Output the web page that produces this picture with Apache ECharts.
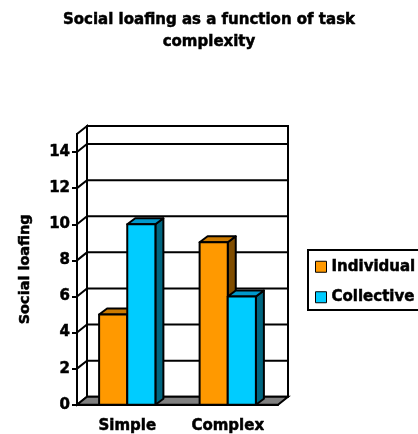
<!DOCTYPE html>
<html>
<head>
<meta charset="utf-8">
<title>Social loafing</title>
<script src="https://cdn.jsdelivr.net/npm/echarts@6/dist/echarts.min.js"></script>
<style>
  html, body { margin: 0; padding: 0; background: #fff; }
  #chart { width: 418px; height: 434px; }
</style>
</head>
<body>
<div id="chart"></div>
<script>
// Chart data
const categories = ['Simple', 'Complex'];
const individual = [5, 9];
const collective = [10, 6];
const yTicks = [0, 2, 4, 6, 8, 10, 12, 14];
const yMax = 15;

// Depth offsets for the pseudo-3D look (pixels)
const WALL_DX = 10, WALL_DY = -8;
const BAR_DX = 8, BAR_DY = -6;
const FONT = '"DejaVu Sans", Verdana, sans-serif';

// Heavy bold text style shared by all labels
function boldText(size) {
  return {
    fontFamily: FONT, fontSize: size, fontWeight: 'bold', color: '#000',
    textBorderColor: '#000', textBorderWidth: 0.5
  };
}

const chart = echarts.init(document.getElementById('chart'), null, { renderer: 'canvas' });

// Back wall, side wall, floor and gridlines
function renderFrame(params, api) {
  const cs = params.coordSys;
  const x0 = cs.x, x1 = cs.x + cs.width;
  const y0 = api.coord([0, 0])[1];
  const yTop = api.coord([0, yMax])[1];
  const line = { stroke: '#000', lineWidth: 2 };
  const children = [];
  children.push({
    type: 'polygon',
    shape: { points: [[x0 + WALL_DX, yTop + WALL_DY], [x1 + WALL_DX, yTop + WALL_DY], [x1 + WALL_DX, y0 + WALL_DY], [x0 + WALL_DX, y0 + WALL_DY]] },
    style: Object.assign({ fill: '#fff' }, line)
  });
  children.push({
    type: 'polygon',
    shape: { points: [[x0, y0], [x0, yTop], [x0 + WALL_DX, yTop + WALL_DY], [x0 + WALL_DX, y0 + WALL_DY]] },
    style: Object.assign({ fill: '#fff' }, line)
  });
  yTicks.forEach(function (v) {
    if (v === 0) return;
    const y = api.coord([0, v])[1];
    children.push({
      type: 'polyline',
      shape: { points: [[x0, y], [x0 + WALL_DX, y + WALL_DY], [x1 + WALL_DX, y + WALL_DY]] },
      style: Object.assign({ fill: null }, line)
    });
  });
  children.push({
    type: 'polygon',
    shape: { points: [[x0, y0], [x1, y0], [x1 + WALL_DX, y0 + WALL_DY], [x0 + WALL_DX, y0 + WALL_DY]] },
    style: Object.assign({ fill: '#808080' }, line)
  });
  return { type: 'group', children: children };
}

// 3D bar: front face, top face, right side face
function barRenderer(slot, front, topColor, sideColor) {
  return function (params, api) {
    const cat = api.value(0), val = api.value(1);
    const band = api.size([1, 0])[0];
    const w = band * 0.28;
    const p = api.coord([cat, val]);
    const b = api.coord([cat, 0]);
    const l = slot === 0 ? p[0] - w : p[0];
    const r = l + w;
    const t = p[1], bot = b[1];
    const stroke = { stroke: '#000', lineWidth: 2, lineJoin: 'round' };
    return {
      type: 'group',
      children: [
        { type: 'polygon', shape: { points: [[r, t], [r + BAR_DX, t + BAR_DY], [r + BAR_DX, bot + BAR_DY], [r, bot]] }, style: Object.assign({ fill: sideColor }, stroke) },
        { type: 'polygon', shape: { points: [[l, t], [r, t], [r + BAR_DX, t + BAR_DY], [l + BAR_DX, t + BAR_DY]] }, style: Object.assign({ fill: topColor }, stroke) },
        { type: 'rect', shape: { x: l, y: t, width: w, height: bot - t }, style: Object.assign({ fill: front }, stroke) }
      ]
    };
  };
}

const option = {
  animation: false,
  backgroundColor: '#fff',
  title: {
    text: 'Social loafing as a function of task\ncomplexity',
    left: 'center',
    top: 4,
    textStyle: Object.assign(boldText(15), { lineHeight: 22 })
  },
  legend: {
    data: ['Individual', 'Collective'],
    orient: 'vertical',
    left: 308,
    top: 250,
    padding: [9, 4, 5, 7],
    itemWidth: 11,
    itemHeight: 11,
    itemGap: 15,
    icon: 'rect',
    borderColor: '#000',
    borderWidth: 2,
    itemStyle: { borderColor: '#000', borderWidth: 1 },
    textStyle: boldText(15)
  },
  grid: { left: 77, right: 140, top: 134, bottom: 26 },
  xAxis: {
    type: 'category',
    data: categories,
    axisLine: { lineStyle: { color: '#000', width: 2 } },
    axisTick: { length: 4, lineStyle: { color: '#000', width: 2 } },
    axisLabel: Object.assign({ margin: 14 }, boldText(15)),
    splitLine: { show: false }
  },
  yAxis: {
    type: 'value',
    min: 0,
    max: yMax,
    name: 'Social loafing',
    nameLocation: 'middle',
    nameRotate: 90,
    nameGap: 44,
    nameTextStyle: boldText(14.5),
    axisLine: { show: true, lineStyle: { color: '#000', width: 2 } },
    axisTick: { show: true, length: 5, customValues: yTicks, lineStyle: { color: '#000', width: 2 } },
    axisLabel: Object.assign({ margin: 7, customValues: yTicks }, boldText(15)),
    splitLine: { show: false }
  },
  series: [
    {
      type: 'custom',
      name: 'frame',
      silent: true,
      z: 1,
      renderItem: renderFrame,
      data: [[0, 0]],
      encode: { x: 0, y: 1 }
    },
    {
      type: 'custom',
      name: 'Individual',
      z: 3,
      itemStyle: { color: '#FF9900' },
      renderItem: barRenderer(0, '#FF9900', '#CC7A00', '#804D00'),
      data: individual.map(function (v, i) { return [i, v]; }),
      encode: { x: 0, y: 1 }
    },
    {
      type: 'custom',
      name: 'Collective',
      z: 3,
      itemStyle: { color: '#00CCFF' },
      renderItem: barRenderer(1, '#00CCFF', '#0099CC', '#006680'),
      data: collective.map(function (v, i) { return [i, v]; }),
      encode: { x: 0, y: 1 }
    }
  ]
};

chart.setOption(option);
</script>
</body>
</html>
